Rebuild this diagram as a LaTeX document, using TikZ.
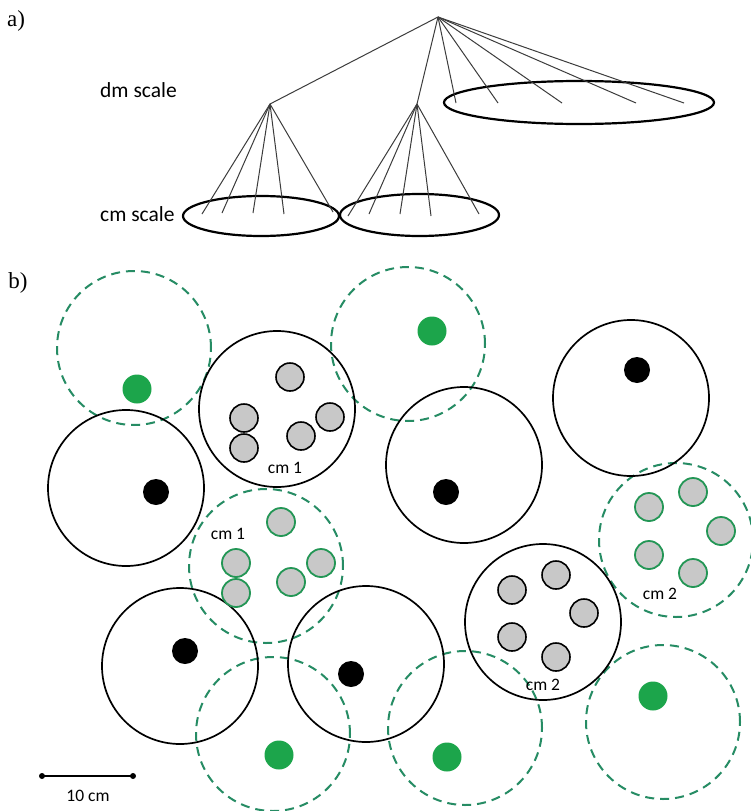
\documentclass[tikz,border=0pt]{standalone}
\usepackage{fontspec}
\setmainfont{Liberation Serif}
\newfontfamily\calibri{Carlito}
\usetikzlibrary{shapes.geometric}
\definecolor{dgreen}{RGB}{38,140,100}
\definecolor{dotgreen}{RGB}{28,165,75}
\definecolor{cgrey}{RGB}{200,200,200}
\definecolor{ringgreen}{RGB}{35,150,85}
\definecolor{treeline}{RGB}{60,60,60}
\tikzset{
  big/.style={circle, draw=black, line width=1.7pt, minimum size=156pt, inner sep=0pt},
  bigd/.style={circle, draw=dgreen, line width=2pt, dash pattern=on 9pt off 6pt, minimum size=154pt, inner sep=0pt},
  bdot/.style={circle, fill=black, minimum size=26pt, inner sep=0pt},
  gdot/.style={circle, fill=dotgreen, minimum size=29pt, inner sep=0pt},
  gcell/.style={circle, draw=black, fill=cgrey, line width=1.6pt, minimum size=28pt, inner sep=0pt},
  gcellg/.style={circle, draw=ringgreen, fill=cgrey, line width=1.8pt, minimum size=28pt, inner sep=0pt},
  lbl/.style={font=\calibri\fontsize{17.5}{20}\selectfont, inner sep=0pt},
  scalelbl/.style={font=\calibri\fontsize{21.5}{24}\selectfont, inner sep=0pt, anchor=west},
  panel/.style={font=\fontsize{23}{26}\selectfont, inner sep=0pt},
  treel/.style={draw=treeline, line width=1pt},
  ell/.style={ellipse, draw=black, line width=2.2pt, inner sep=0pt},
  bar/.style={draw=black, line width=2pt},
  barend/.style={circle, fill=black, minimum size=6pt, inner sep=0pt}
}
\begin{document}
\begin{tikzpicture}[x=1pt,y=-1pt]
\useasboundingbox (0,0) rectangle (751,811);
\fill[white] (0,0) rectangle (751,811);

% ---------- panel a ----------
\node[panel] (pa) at (16,21) {a)};
\node[scalelbl] (dm) at (100,90) {dm scale};
\node[scalelbl] (cm) at (100,214) {cm scale};

\node[ell, minimum width=270pt, minimum height=43pt] (E3) at (579,102.5) {};
\node[ell, minimum width=156pt, minimum height=40pt] (E1) at (261,216) {};
\node[ell, minimum width=159pt, minimum height=42pt] (E2) at (419.5,215) {};

\coordinate (top) at (438,17);
\coordinate (l) at (270,104);
\coordinate (m) at (417,104);

\draw[treel] (top) -- (l);
\draw[treel] (top) -- (m);
\foreach \i/\x in {1/456,2/498,3/562,4/636,5/684}{
  \coordinate (r\i) at (\x,103);
  \draw[treel] (top) -- (r\i);
}
\foreach \i/\x/\y in {1/202/214,2/222/213,3/253/213,4/284/214,5/333/212}{
  \coordinate (a\i) at (\x,\y);
  \draw[treel] (l) -- (a\i);
}
\foreach \i/\x/\y in {1/348/216,2/369/214,3/400/214,4/431/216,5/479/214}{
  \coordinate (b\i) at (\x,\y);
  \draw[treel] (m) -- (b\i);
}

% ---------- panel b ----------
\node[panel] (pb) at (18,283) {b)};

% dashed green circles
\node[bigd] (D1) at (134,348) {};
\node[gdot] (d1) at (137,389) {};
\node[bigd] (D2) at (408,344) {};
\node[gdot] (d2) at (432,331) {};
\node[bigd] (D3) at (266,566) {};
\node[bigd] (D4) at (676,540) {};
\node[bigd] (D5) at (273,734) {};
\node[gdot] (d5) at (279,755) {};
\node[bigd] (D6) at (465,728) {};
\node[gdot] (d6) at (447,757) {};
\node[bigd] (D7) at (663,722) {};
\node[gdot] (d7) at (653,696) {};

% solid black circles
\node[big] (C1) at (277,409) {};
\node[big] (C2) at (126,488) {};
\node[bdot] (c2) at (156,492) {};
\node[big] (C3) at (464,465) {};
\node[bdot] (c3) at (446,492) {};
\node[big] (C4) at (631,398) {};
\node[bdot] (c4) at (637,370) {};
\node[big] (C5) at (180,666) {};
\node[bdot] (c5) at (185,651) {};
\node[big] (C6) at (366,664) {};
\node[bdot] (c6) at (351,674) {};
\node[big] (C7) at (543,622) {};

% cm 1 (black)
\node[gcell] (k1) at (290,377) {};
\node[gcell] (k2) at (244,418) {};
\node[gcell] (k3) at (244,448) {};
\node[gcell] (k4) at (301,436) {};
\node[gcell] (k5) at (330,417) {};
\node[lbl] (t1) at (285,468) {cm 1};

% cm 2 (black)
\node[gcell] (q1) at (512,590) {};
\node[gcell] (q2) at (556,575) {};
\node[gcell] (q3) at (584,613) {};
\node[gcell] (q4) at (512,637) {};
\node[gcell] (q5) at (556,657) {};
\node[lbl] (t2) at (543,685) {cm 2};

% cm 1 (green)
\node[gcellg] (g1) at (281,522) {};
\node[gcellg] (g2) at (236,563) {};
\node[gcellg] (g3) at (236,593) {};
\node[gcellg] (g4) at (291,582) {};
\node[gcellg] (g5) at (321,563) {};
\node[lbl] (t3) at (228,534) {cm 1};

% cm 2 (green)
\node[gcellg] (h1) at (693,492) {};
\node[gcellg] (h2) at (649,507) {};
\node[gcellg] (h3) at (721,531) {};
\node[gcellg] (h4) at (649,555) {};
\node[gcellg] (h5) at (693,573) {};
\node[lbl] (t4) at (660,594) {cm 2};

% scale bar
\node[barend] (s1) at (42,776) {};
\node[barend] (s2) at (133,776) {};
\draw[bar] (s1.center) -- (s2.center);
\node[lbl] (st) at (88,796) {10 cm};
\end{tikzpicture}
\end{document}
